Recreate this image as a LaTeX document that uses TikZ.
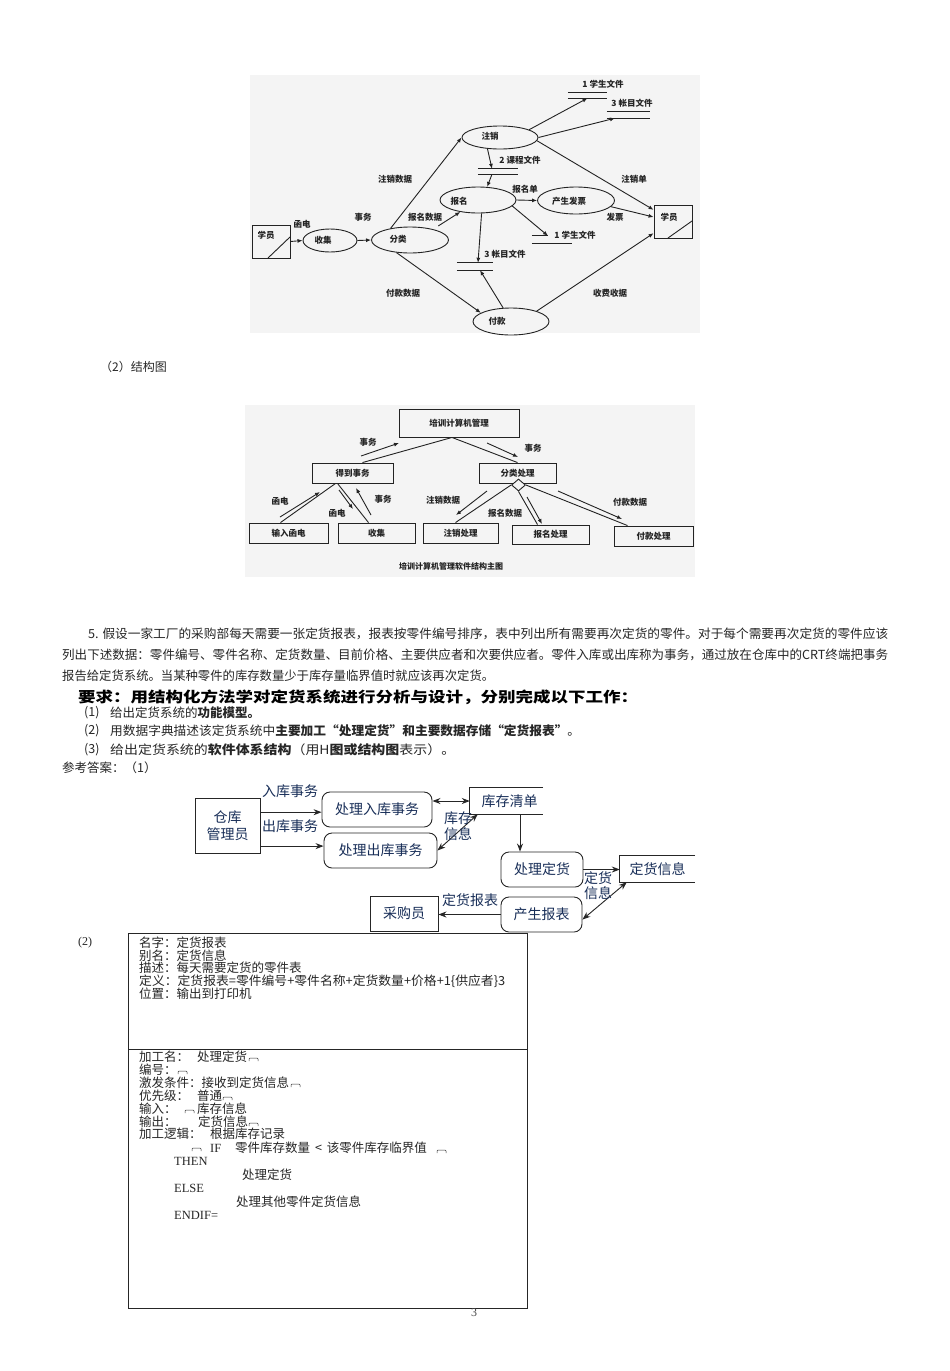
\documentclass[tikz,border=0pt]{standalone}
\usepackage{fontspec}
\usepackage{graphicx}
\setmainfont{Noto Sans CJK SC}
\newfontfamily\lsf{Liberation Serif}
\usetikzlibrary{arrows.meta,shapes.geometric}
\definecolor{navy}{RGB}{24,46,88}
\definecolor{scanbg}{RGB}{244,244,244}
\definecolor{ink}{RGB}{35,35,35}
\newcommand\myfs[1]{\fontsize{#1}{#1}\selectfont}
\newcommand\fitw[2]{\resizebox{#1pt}{\height}{#2}}
\begin{document}
\begin{tikzpicture}[x=1pt,y=-1pt,
  scanline/.style={line width=0.9pt,draw=ink},
  sarrow/.style={scanline,-{Latex[length=5pt,width=4pt]}},
  bubble/.style={ellipse,scanline,inner sep=0},
  sbox/.style={rectangle,scanline,inner sep=0,font=\myfs{8.5}\bfseries,text=ink},
  stext/.style={font=\myfs{8.5}\bfseries,text=ink,inner sep=0},
  storenode/.style={inner sep=0},
  dline/.style={draw=black!85,line width=0.9pt},
  dbox/.style={rectangle,dline,text=navy,font=\myfs{14},inner sep=0},
  proc/.style={dbox,rounded corners=8pt},
  darrow/.style={dline,-{Stealth[length=8pt,width=6pt]}},
  dboth/.style={dline,{Stealth[length=8pt,width=6pt]}-{Stealth[length=8pt,width=6pt]}},
  dtext/.style={text=navy,font=\myfs{14},inner sep=0},
  pline/.style={anchor=west,inner sep=0,font=\myfs{12.5},text=black!85},
  tline/.style={anchor=west,inner sep=0,font=\myfs{12.5},text=black!85},
  mk/.pic={\draw[line width=0.5pt,rounded corners=1pt,black!80] (0,3) -- (0,0) -- (9,0) -- (9,3);}
]
\useasboundingbox (0,0) rectangle (950,1371);
\fill[white] (0,0) rectangle (950,1371);

% ================= top DFD (scan) =================
\fill[scanbg] (250,75) rectangle (700,333);
\node[sbox,minimum width=38pt,minimum height=33pt] (stuA) at (271,241.5) {};
\node[stext] (tstuA) at (266,235) {学员};
\draw[scanline] (268,258) -- (290,237);
\node[sbox,minimum width=38pt,minimum height=33pt] (stuB) at (673,221.5) {};
\node[stext] (tstuB) at (669,217) {学员};
\draw[scanline] (668,238) -- (692,221);

\node[bubble,minimum width=54pt,minimum height=23pt] (sj) at (330,240.5) {};
\node[stext] (tsj) at (323,240) {收集};
\node[bubble,minimum width=77pt,minimum height=26pt] (fl) at (410,240) {};
\node[stext] (tfl) at (398,239) {分类};
\node[bubble,minimum width=76pt,minimum height=23pt] (zx) at (500,137.5) {};
\node[stext] (tzx) at (490,136) {注销};
\node[bubble,minimum width=76pt,minimum height=26pt] (bm) at (478,200) {};
\node[stext] (tbm) at (459,201) {报名};
\node[bubble,minimum width=77pt,minimum height=27pt] (fp) at (576,200.5) {};
\node[stext] (tfp) at (569,201) {产生发票};
\node[bubble,minimum width=76pt,minimum height=27pt] (fk) at (511,321.5) {};
\node[stext] (tfk) at (497,321) {付款};

% stores
\node[storenode,minimum width=39pt,minimum height=5pt] (stA) at (587.5,95.5) {};
\draw[scanline] (stA.north west) -- (stA.north east) (stA.south west) -- (stA.south east);
\node[storenode,minimum width=43pt,minimum height=6pt] (stB) at (628.5,115) {};
\draw[scanline] (stB.north west) -- (stB.north east) (stB.south west) -- (stB.south east);
\node[storenode,minimum width=40pt,minimum height=5pt] (stC) at (498,171.5) {};
\draw[scanline] (stC.north west) -- (stC.north east) (stC.south west) -- (stC.south east);
\node[storenode,minimum width=40pt,minimum height=7pt] (stD) at (552,239.5) {};
\draw[scanline] (stD.north west) -- ([xshift=-4pt]stD.north) (stD.south west) -- (stD.south east);
\node[storenode,minimum width=36pt,minimum height=7pt] (stE) at (475,266.5) {};
\draw[scanline] (stE.north west) -- (stE.north east) (stE.south west) -- (stE.south east);

\draw[sarrow] (stuA.east) -- (sj.west);
\draw[sarrow] (sj.east) -- (fl.west);
\draw[sarrow] (fl.149) -- (zx.west);
\draw[sarrow,shorten <=6pt] (fl.25) -- (bm.214);
\draw[sarrow] (fl.223) -- (fk.164);
\draw[sarrow] (zx.15) -- (stA.south);
\draw[sarrow] (zx.east) -- ([xshift=-13.5pt]stB.south);
\draw[sarrow] (zx.222) -- ([xshift=-6pt]stC.north);
\draw[sarrow] ([xshift=-6pt]stC.south) -- (bm.55);
\draw[sarrow] (zx.-5) -- (stuB.149);
\draw[sarrow] (bm.east) -- (fp.west);
\draw[sarrow] (bm.-10) -- ([xshift=-4pt]stD.north);
\draw[sarrow] (bm.-75) -- ([xshift=3pt]stE.north);
\draw[sarrow] (fk.120) -- ([xshift=5pt]stE.south);
\draw[sarrow] (fp.-10) -- (stuB.167);
\draw[sarrow] (fk.22) -- (stuB.211);

\node[stext] (l1) at (302,224) {函电};
\node[stext] (l2) at (363,217) {事务};
\node[stext] (l3) at (395,179) {注销数据};
\node[stext] (l4) at (425,217) {报名数据};
\node[stext] (l5) at (403,293) {付款数据};
\node[stext] (l6) at (520,160) {2 课程文件};
\node[stext] (l7) at (525,189) {报名单};
\node[stext] (l8) at (634,179) {注销单};
\node[stext] (l9) at (615,217) {发票};
\node[stext] (l10) at (610,293) {收费收据};
\node[stext] (l11) at (603,84) {1 学生文件};
\node[stext] (l12) at (632,103) {3 帐目文件};
\node[stext] (l13) at (575,235) {1 学生文件};
\node[stext] (l14) at (505,254) {3 帐目文件};

\node[pline,font=\myfs{12}] (cap2) at (100,367) {（2）结构图};

% ================= structure chart (scan) =================
\fill[scanbg] (245,405) rectangle (695,577);
\node[sbox,minimum width=120pt,minimum height=28pt] (root) at (459,423) {培训计算机管理};
\node[sbox,minimum width=81pt,minimum height=20pt] (get) at (352.5,473) {得到事务};
\node[sbox,minimum width=77pt,minimum height=20pt] (cls) at (517.5,473) {分类处理};
\node[sbox,minimum width=79pt,minimum height=20pt] (inp) at (288.5,533) {输入函电};
\node[sbox,minimum width=77pt,minimum height=20pt] (col) at (376.5,533) {收集};
\node[sbox,minimum width=75pt,minimum height=20pt] (zxc) at (460.5,533) {注销处理};
\node[sbox,minimum width=77pt,minimum height=19pt] (bmc) at (550.5,534.5) {报名处理};
\node[sbox,minimum width=79pt,minimum height=20pt] (fkc) at (653.5,536) {付款处理};
\node[diamond,scanline,fill=scanbg,minimum width=14pt,minimum height=12pt,inner sep=0] (dm) at (518.5,485) {};

\draw[scanline] ([xshift=-7pt]root.south) -- ([xshift=10pt]get.north);
\draw[scanline] ([xshift=-7pt]root.south) -- (cls.north);
\draw[scanline] ([xshift=-17pt]get.south) -- ([xshift=-8pt]inp.north);
\draw[scanline] ([xshift=-15pt]get.south) -- ([xshift=-8pt]col.north);
\draw[scanline] (dm.west) -- ([xshift=-5pt]zxc.north);
\draw[scanline] (dm.south) -- ([xshift=-13pt]bmc.north);
\draw[scanline] (dm.east) -- ([xshift=-26pt]fkc.north);

\coordinate (a1s) at (361,456); \coordinate (a1e) at (399,443);
\coordinate (a2s) at (487,443); \coordinate (a2e) at (518,457);
\coordinate (a3s) at (280,517); \coordinate (a3e) at (320,492);
\coordinate (a4s) at (339,490); \coordinate (a4e) at (353,509);
\coordinate (a5s) at (371,515); \coordinate (a5e) at (356,488);
\coordinate (a6s) at (487,491); \coordinate (a6e) at (456,515);
\coordinate (a7s) at (527,497); \coordinate (a7e) at (542,524);
\coordinate (a8s) at (558,491); \coordinate (a8e) at (622,519);
\foreach \s/\e in {a1s/a1e,a2s/a2e,a3s/a3e,a4s/a4e,a5s/a5e,a6s/a6e,a7s/a7e,a8s/a8e}
  \draw[sarrow] (\s) -- (\e);
\node[stext] (m1) at (368,442) {事务};
\node[stext] (m2) at (533,448) {事务};
\node[stext] (m3) at (280,501) {函电};
\node[stext] (m4) at (337,513) {函电};
\node[stext] (m5) at (383,499) {事务};
\node[stext] (m6) at (443,500) {注销数据};
\node[stext] (m7) at (505,513) {报名数据};
\node[stext] (m8) at (630,502) {付款数据};
\node[stext,font=\myfs{8}\bfseries] (m9) at (451,566) {培训计算机管理软件结构主图};

% ================= paragraph =================
\node[pline] (p1t) at (88,634) {\fitw{800}{5. 假设一家工厂的采购部每天需要一张定货报表，报表按零件编号排序，表中列出所有需要再次定货的零件。对于每个需要再次定货的零件应该}};
\node[pline] (p2t) at (62,655) {\fitw{826}{列出下述数据：零件编号、零件名称、定货数量、目前价格、主要供应者和次要供应者。零件入库或出库称为事务，通过放在仓库中的CRT终端把事务}};
\node[pline] (p3t) at (62,676) {\fitw{432}{报告给定货系统。当某种零件的库存数量少于库存量临界值时就应该再次定货。}};
\node[pline,font=\myfs{14.5}\bfseries,text=black] (p4t) at (78,697) {\fitw{560}{要求：用结构化方法学对定货系统进行分析与设计，分别完成以下工作：}};
\node[pline] (n1) at (84,713) {(1)};
\node[pline] (p5t) at (110,713) {\fitw{150}{给出定货系统的\textbf{功能模型。}}};
\node[pline] (n2) at (84,731) {(2)};
\node[pline] (p6t) at (110,731) {\fitw{470}{用数据字典描述该定货系统中\textbf{主要加工“处理定货”和主要数据存储“定货报表”}。}};
\node[pline] (n3) at (84,750) {(3)};
\node[pline] (p7t) at (110,750) {\fitw{345}{给出定货系统的\textbf{软件体系结构}（用H\textbf{图或结构图}表示）。}};
\node[pline] (p8t) at (62,768) {参考答案：（1）};

% ================= bottom DFD =================
\node[dbox,minimum width=65pt,minimum height=55pt,align=center,font=\fontsize{14}{17}\selectfont] (wm) at (227.5,825.5) {仓库\\管理员};
\node[proc,minimum width=110pt,minimum height=35pt] (q1) at (377,809.5) {处理入库事务};
\node[proc,minimum width=113pt,minimum height=35pt] (q2) at (380.5,850.5) {处理出库事务};
\node[dtext,minimum width=73pt,minimum height=26pt] (ds1) at (506.5,801) {\hspace*{6pt}库存清单};
\draw[dline] (ds1.north east) -- (ds1.north west) -- (ds1.south west) -- (ds1.south east);
\node[proc,minimum width=82pt,minimum height=35pt] (q3) at (542,869.5) {处理定货};
\node[dtext,minimum width=75pt,minimum height=26pt] (ds2) at (657.5,869) {定货信息};
\draw[dline] (ds2.north east) -- (ds2.north west) -- (ds2.south west) -- (ds2.south east);
\node[proc,minimum width=81pt,minimum height=35pt] (q4) at (541.5,914.5) {产生报表};
\node[dbox,minimum width=68pt,minimum height=35pt] (cg) at (404,913.5) {采购员};

\draw[darrow] (wm.22.6) -- (wm.22.6 -| q1.west);
\draw[darrow] (wm.-32.2) -- (wm.-32.2 -| q2.west);
\draw[dboth] (q1.east |- ds1.west) -- (ds1.west);
\draw[dboth] (q2.east) -- ([xshift=8pt]ds1.south west);
\draw[darrow] ([xshift=13.5pt]ds1.south) -- ([xshift=13.5pt]ds1.south |- q3.north);
\draw[darrow] (q3.east) -- (q3.east -| ds2.west);
\draw[dboth] (q4.-7.7) -- ([xshift=7pt]ds2.south west);
\draw[darrow] (q4.west) -- (q4.west -| cg.east);

\node[dtext] (b1) at (290,791) {入库事务};
\node[dtext] (b2) at (290,826) {出库事务};
\node[dtext] (b3) at (458,818) {库存};
\node[dtext] (b4) at (458,834) {信息};
\node[dtext] (b5) at (598,878) {定货};
\node[dtext] (b6) at (598,893) {信息};
\node[dtext] (b7) at (470,900) {定货报表};

% ================= table =================
\node[pline,font=\myfs{12}\lsf] (n4) at (78,943) {(2)};
\draw[line width=0.9pt,black!85] (128,933) rectangle (527,1308);
\draw[line width=0.9pt,black!85] (128,1049) -- (527,1049);
\node[tline] (t1) at (139,943) {名字：定货报表};
\node[tline] (t2) at (139,955.5) {别名：定货信息};
\node[tline] (t3) at (139,968) {描述：每天需要定货的零件表};
\node[tline] (t4) at (139,981) {\fitw{366}{定义：定货报表=零件编号+零件名称+定货数量+价格+1\{供应者\}3}};
\node[tline] (t5) at (139,994) {位置：输出到打印机};

\node[tline] (u1) at (139,1057) {加工名：};
\node[tline] (u1b) at (197,1057) {处理定货};
\node[tline] (u2) at (139,1070) {编号：};
\node[tline] (u3) at (139,1083) {激发条件：接收到定货信息};
\node[tline] (u4) at (139,1096) {优先级：};
\node[tline] (u4b) at (197,1096) {普通};
\node[tline] (u5) at (139,1109) {输入：};
\node[tline] (u5b) at (197,1109) {库存信息};
\node[tline] (u6) at (139,1122) {输出：};
\node[tline] (u6b) at (198,1122) {定货信息};
\node[tline] (u7) at (139,1134) {加工逻辑：};
\node[tline] (u7b) at (210,1134) {根据库存记录};
\node[tline,font=\myfs{12.5}\lsf] (u8) at (210,1148) {IF};
\node[tline] (u8b) at (235,1148) {零件库存数量 \,<\, 该零件库存临界值};
\node[tline,font=\myfs{12.5}\lsf] (u9) at (174,1161) {THEN};
\node[tline] (u10) at (242,1175) {处理定货};
\node[tline,font=\myfs{12.5}\lsf] (u11) at (174,1188) {ELSE};
\node[tline] (u12) at (236,1202) {处理其他零件定货信息};
\node[tline,font=\myfs{12.5}\lsf] (u13) at (174,1215) {ENDIF=};

\foreach \px/\py in {249/1058,178/1071,291/1084,223/1097,185/1110,249/1123,192/1148,437/1150}
  \pic at (\px,\py) {mk};

\node[pline,font=\myfs{12}\lsf,text=black!70] (pg) at (471,1313) {3};
\end{tikzpicture}
\end{document}
